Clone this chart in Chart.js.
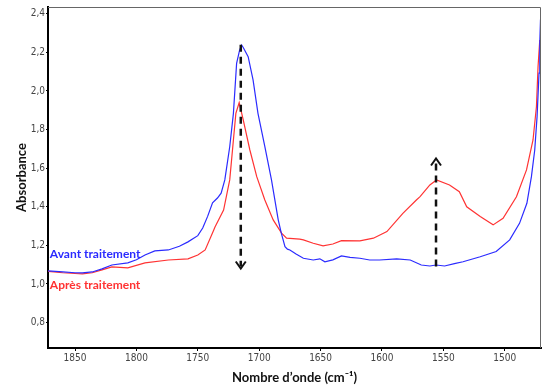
<!DOCTYPE html>
<html>
<head>
<meta charset="utf-8">
<script src="https://cdn.jsdelivr.net/npm/chart.js@4"></script>
<style>
  html, body {margin: 0; padding: 0; background: #fff;}
  #wrap {width: 542px; height: 389px;}
</style>
</head>
<body>
<div id="wrap"><canvas id="chart"></canvas></div>
<script>
// wavenumber (cm-1) / absorbance
const avantWave = [1872, 1860, 1850, 1844, 1836, 1828, 1820, 1807, 1800, 1793, 1785, 1774, 1765, 1758, 1750, 1746, 1742, 1738, 1734, 1731, 1728, 1724, 1721, 1718.4, 1716, 1714.3, 1713, 1709, 1705, 1701, 1695.4, 1690, 1684.5, 1682, 1679, 1677, 1675, 1670, 1664, 1656, 1650.6, 1646.5, 1640, 1633, 1626, 1618, 1610, 1602, 1588, 1577, 1568, 1561, 1556, 1549, 1541, 1534, 1520, 1507, 1496, 1488, 1482, 1478.3, 1475.6, 1473.7, 1472.1, 1471.5, 1470.9];
const avantAbs = [1.068, 1.062, 1.058, 1.057, 1.062, 1.078, 1.098, 1.109, 1.125, 1.15, 1.171, 1.176, 1.195, 1.218, 1.25, 1.29, 1.35, 1.42, 1.445, 1.47, 1.539, 1.711, 1.884, 2.143, 2.21, 2.238, 2.225, 2.178, 2.057, 1.884, 1.711, 1.539, 1.332, 1.263, 1.193, 1.18, 1.176, 1.155, 1.133, 1.124, 1.13, 1.115, 1.125, 1.145, 1.138, 1.133, 1.124, 1.124, 1.13, 1.124, 1.098, 1.093, 1.098, 1.093, 1.105, 1.115, 1.141, 1.168, 1.228, 1.314, 1.418, 1.556, 1.694, 1.867, 2.092, 2.25, 2.37];

const apresWave = [1872, 1860, 1850, 1844, 1836, 1828, 1820, 1807, 1793, 1774, 1758, 1750, 1744, 1737, 1736, 1729, 1724, 1721, 1719, 1716.3, 1713, 1707.6, 1702, 1695.4, 1688.6, 1681.8, 1677.7, 1667, 1664, 1656, 1648, 1640, 1633, 1618, 1607, 1596, 1583, 1572, 1569, 1561, 1555.6, 1545, 1537, 1531, 1520, 1509.5, 1501.4, 1490.5, 1482.3, 1477, 1474.2, 1472.9, 1471.5];
const apresAbs = [1.065, 1.058, 1.054, 1.052, 1.058, 1.073, 1.088, 1.083, 1.109, 1.124, 1.13, 1.15, 1.176, 1.28, 1.295, 1.383, 1.539, 1.746, 1.884, 1.94, 1.85, 1.694, 1.556, 1.435, 1.332, 1.263, 1.237, 1.232, 1.228, 1.211, 1.197, 1.207, 1.224, 1.223, 1.237, 1.271, 1.366, 1.435, 1.452, 1.513, 1.539, 1.513, 1.478, 1.4, 1.349, 1.306, 1.34, 1.452, 1.591, 1.746, 1.919, 2.127, 2.264];

const xTicks = [1850, 1800, 1750, 1700, 1650, 1600, 1550, 1500];
const yTicks = [0.8, 1.0, 1.2, 1.4, 1.6, 1.8, 2.0, 2.2, 2.4];

const seriesNames = ['Avant traitement', 'Après traitement'];
const seriesColors = ['#2b2bff', '#ff3333'];
const labelWave = [1870.5, 1870.5];
const labelAbs = [1.155, 0.995];

// dashed arrows: [wavenumber, from absorbance, to absorbance]
const arrows = [
    [1715, 2.24, 1.08],
    [1556, 1.09, 1.65]
];


function toPoints(xs, ys) {
    return xs.map((x, i) => ({x: x, y: ys[i]}));
}

const extras = {
    id: 'extras',
    afterDatasetsDraw(chart) {
        const {ctx, chartArea: a, scales: {x, y}} = chart;
        ctx.save();
        // thin frame top / right
        ctx.strokeStyle = '#666';
        ctx.lineWidth = 1;
        ctx.beginPath();
        ctx.moveTo(a.left, a.top + 0.5);
        ctx.lineTo(a.right - 0.5, a.top + 0.5);
        ctx.lineTo(a.right - 0.5, a.bottom);
        ctx.stroke();

        // arrows
        ctx.strokeStyle = '#111';
        for (const [w, v0, v1] of arrows) {
            const px = x.getPixelForValue(w);
            const y0 = y.getPixelForValue(v0);
            const y1 = y.getPixelForValue(v1);
            const dir = y1 > y0 ? 1 : -1;
            ctx.lineWidth = 2.5;
            ctx.setLineDash([7, 5]);
            ctx.beginPath();
            ctx.moveTo(px, y0);
            ctx.lineTo(px, y1 - dir * 2);
            ctx.stroke();
            ctx.setLineDash([]);
            ctx.lineWidth = 2;
            ctx.beginPath();
            ctx.moveTo(px - 5, y1 - dir * 7);
            ctx.lineTo(px, y1);
            ctx.lineTo(px + 5, y1 - dir * 7);
            ctx.stroke();
        }

        // series labels
        ctx.font = 'bold 12px Lato, "Open Sans", sans-serif';
        ctx.textBaseline = 'middle';
        ctx.textAlign = 'left';
        seriesNames.forEach((name, i) => {
            ctx.fillStyle = seriesColors[i];
            ctx.fillText(name, x.getPixelForValue(labelWave[i]), y.getPixelForValue(labelAbs[i]));
        });
        ctx.restore();
    }
};

const tickFont = {family: '"Liberation Sans Narrow", "Arial Narrow", "DejaVu Sans Condensed", sans-serif', size: 10};

const config = {
    type: 'line',
    data: {
        datasets: [{
            label: seriesNames[0],
            data: toPoints(avantWave, avantAbs),
            borderColor: seriesColors[0],
            borderWidth: 1.2,
            pointRadius: 0,
            tension: 0
        }, {
            label: seriesNames[1],
            data: toPoints(apresWave, apresAbs),
            borderColor: seriesColors[1],
            borderWidth: 1.2,
            pointRadius: 0,
            tension: 0
        }]
    },
    options: {
        responsive: true,
        maintainAspectRatio: false,
        animation: false,
        layout: {padding: {top: 7, right: 1, left: 0, bottom: 0}},
        plugins: {
            legend: {display: false},
            tooltip: {enabled: false}
        },
        scales: {
            x: {
                type: 'linear',
                reverse: true,
                min: 1470.5,
                max: 1872,
                afterBuildTicks: (s) => { s.ticks = xTicks.map(v => ({value: v})); },
                afterFit: (s) => { s.height = 41; },
                grid: {drawOnChartArea: false, drawTicks: true, tickLength: 3, color: '#000'},
                border: {color: '#000', width: 2},
                ticks: {
                    font: tickFont,
                    color: '#444',
                    padding: 1,
                    maxRotation: 0,
                    callback: (v) => String(v)
                },
                title: {
                    display: true,
                    text: 'Nombre d\u2019onde (cm\u207B\u00B9)',
                    font: {family: 'Lato, "Open Sans", sans-serif', size: 13, weight: 'bold'},
                    color: '#111',
                    padding: {top: 0, bottom: 3}
                }
            },
            y: {
                min: 0.668,
                max: 2.435,
                afterBuildTicks: (s) => { s.ticks = yTicks.map(v => ({value: v})); },
                afterFit: (s) => { s.width = 48; },
                grid: {drawOnChartArea: false, drawTicks: true, tickLength: 2, color: '#000'},
                border: {color: '#000', width: 2},
                ticks: {
                    font: tickFont,
                    color: '#444',
                    padding: 1,
                    callback: (v) => v.toFixed(1).replace('.', ',')
                },
                title: {
                    display: true,
                    text: 'Absorbance',
                    font: {family: 'Lato, "Open Sans", sans-serif', size: 13, weight: 'bold'},
                    color: '#111',
                    padding: {top: 14, bottom: 0}
                }
            }
        }
    },
    plugins: [extras]
};

const spectrum = new Chart(document.getElementById('chart'), config);
</script>
</body>
</html>
